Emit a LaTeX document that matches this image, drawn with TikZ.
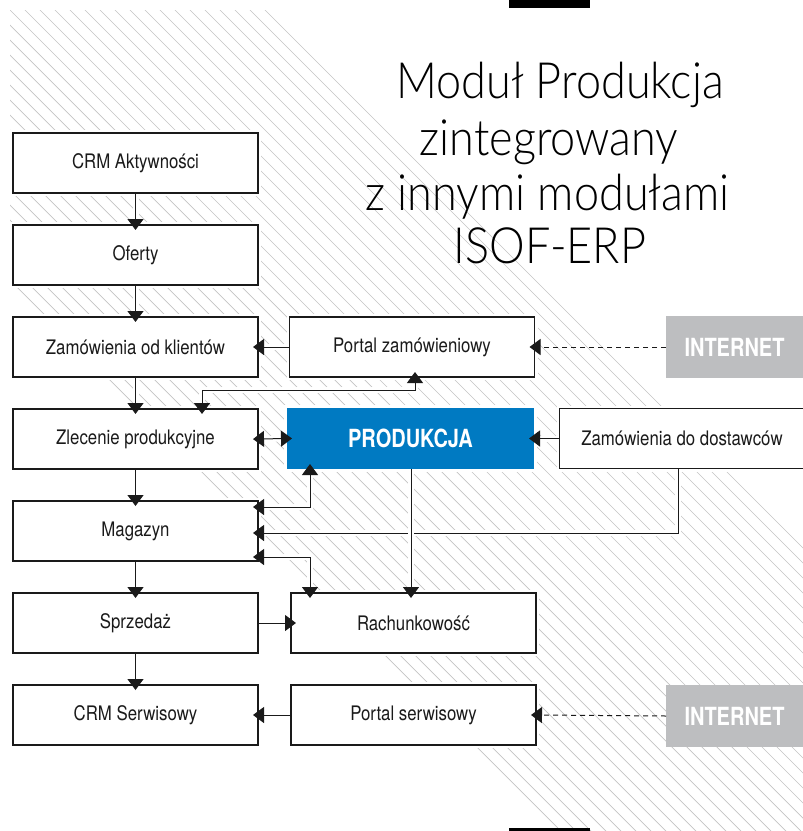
\documentclass[tikz,border=0pt]{standalone}
\usepackage{fontspec}
\setmainfont{TeX Gyre Heros}[FakeStretch=0.84]
\newfontfamily\condbold{TeX Gyre Heros}[FakeStretch=0.8]
\newfontfamily\titlefont{Lato Light}[FakeStretch=0.9]
\usetikzlibrary{arrows.meta}
\definecolor{isoblue}{RGB}{0,122,194}
\definecolor{netgray}{RGB}{189,190,192}
\definecolor{hatchgray}{RGB}{196,196,196}
\definecolor{ink}{RGB}{26,26,26}
\begin{document}
\begin{tikzpicture}[x=1pt,y=-1pt,
  box/.style={draw=ink, line width=1.1pt, fill=white, minimum width=245pt, minimum height=60pt,
    inner sep=0pt, outer sep=0pt, font=\fontsize{20}{24}\selectfont, text=ink,
    preaction={draw=white, line width=6pt}},
  bluebox/.style={fill=isoblue, minimum width=247pt, minimum height=61pt, inner sep=0pt, outer sep=0pt,
    text=white, font=\condbold\bfseries\fontsize{25}{28}\selectfont,
    preaction={draw=white, line width=6pt}},
  netbox/.style={fill=netgray, minimum width=137pt, minimum height=62pt, inner sep=0pt, outer sep=0pt,
    text=white, font=\condbold\bfseries\fontsize{25}{28}\selectfont},
  titletext/.style={anchor=base, inner sep=0pt, text=black, font=\titlefont\fontsize{50}{60}\selectfont},
  halo/.style={preaction={draw=white, line width=6pt, arrows=-, shorten >=1pt, shorten <=1pt}},
  arr/.style={draw=ink, line width=1pt, -{Triangle[width=16pt,length=11pt]}, shorten >=-5pt},
  both/.style={draw=ink, line width=1pt, {Triangle[width=16pt,length=11pt]}-{Triangle[width=16pt,length=11pt]},
    shorten >=-5pt, shorten <=-5pt},
  web/.style={arr, dash pattern=on 5pt off 4pt}
]
\useasboundingbox (0,0) rectangle (803,831);
\fill[white] (0,0) rectangle (803,831);

% hatching band
\begin{scope}
  \clip (10,10) rectangle (803,831);
  \foreach \c in {-255,-240,...,270}
    \draw[hatchgray, line width=0.7pt] (-100,{-100+\c}) -- (1000,{1000+\c});
\end{scope}

% bars
\fill[black] (509,0) rectangle (590,8);
\fill[black] (509,828) rectangle (590,831);

% title
\node[titletext] (t1) at (560,98) {Moduł Produkcja};
\node[titletext] (t2) at (549,155) {zintegrowany};
\node[titletext] (t3) at (547.5,210) {z innymi modułami};
\node[titletext] (t4) at (550,263) {ISOF-ERP};

% coordinates for bends
\coordinate (xa) at (202,0);
\coordinate (xb) at (415,0);
\coordinate (xc) at (310,0);
\coordinate (xd) at (678,0);
\coordinate (xe) at (411,0);
\coordinate (ya) at (0,390);
\coordinate (yb) at (0,507);
\coordinate (yc) at (0,533);
\coordinate (yd) at (0,557);

% boxes
\node[box] (crm) at (135.5,163) {CRM Aktywności};
\node[box] (oferty) at (135.5,255) {Oferty};
\node[box] (zamk) at (135.5,347) {Zamówienia od klientów};
\node[box] (zlec) at (135.5,439) {Zlecenie produkcyjne};
\node[box] (mag) at (135.5,531) {Magazyn};
\node[box] (sprz) at (135.5,623) {Sprzedaż};
\node[box] (crms) at (135.5,715) {CRM Serwisowy};

\node[box] (pzam) at (412,347) {Portal zamówieniowy};
\node[bluebox] (prod) at (410.5,438.5) {PRODUKCJA};
\node[box] (dost) at (682,438.5) {Zamówienia do dostawców};
\node[box] (rach) at (413.5,623) {Rachunkowość};
\node[box] (pserw) at (413.5,715) {Portal serwisowy};

\node[netbox] (net1) at (734.5,347) {INTERNET};
\node[netbox] (net2) at (734.5,716) {INTERNET};

% vertical chain
\draw[arr, halo] (crm.south) -- (oferty.north);
\draw[arr, halo] (oferty.south) -- (zamk.north);
\draw[arr, halo] (zamk.south) -- (zlec.north);
\draw[arr, halo] (zlec.south) -- (mag.north);
\draw[arr, halo] (mag.south) -- (sprz.north);
\draw[arr, halo] (sprz.south) -- (crms.north);

% horizontal links
\draw[arr, halo] (pzam.west) -- (zamk.east);
\draw[web] (net1.west) -- (pzam.east);
\draw[both, halo] (zlec.east) -- (prod.west);
\draw[arr, halo] (dost.west) -- (prod.east);
\draw[arr, halo] (sprz.east) -- (rach.west);
\draw[arr, halo] (pserw.west) -- (crms.east);
\draw[web] (net2.west) -- (pserw.east);

% elbow links
\draw[both, halo] (xa |- zlec.north) -- (xa |- ya) -- (xb |- ya) -- (xb |- pzam.south);
\draw[both, halo] (xc |- prod.south) -- (xc |- yb) -- (mag.east |- yb);
\draw[arr, halo] (xd |- dost.south) -- (xd |- yc) -- (mag.east |- yc);
\draw[arr, halo] (xe |- prod.south) -- (xe |- rach.north);
\draw[both, halo] (mag.east |- yd) -- (xc |- yd) -- (xc |- rach.north);

\end{tikzpicture}
\end{document}
